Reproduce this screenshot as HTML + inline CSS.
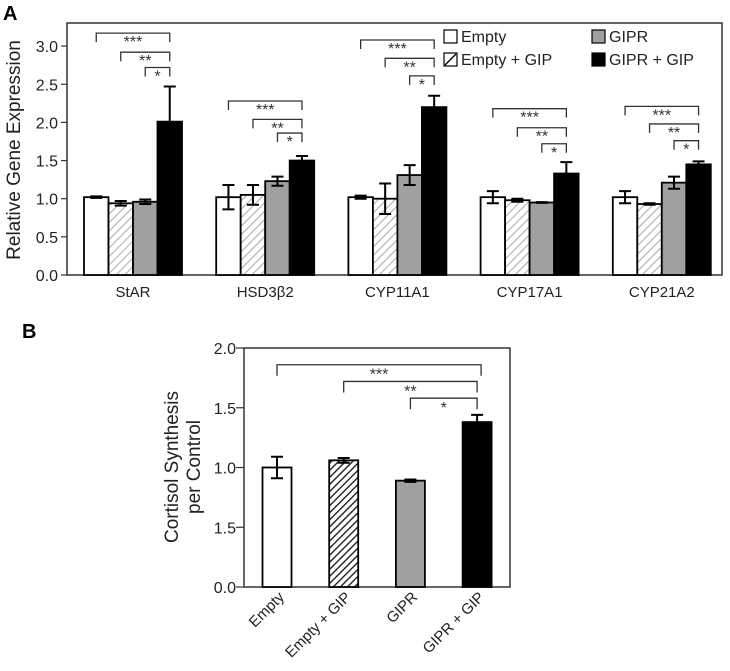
<!DOCTYPE html>
<html><head><meta charset="utf-8"><style>
body{margin:0;background:#fff;}
svg{display:block;font-family:"Liberation Sans",sans-serif;}
</style></head><body>
<svg id="chart" width="730" height="671" viewBox="0 0 730 671">
<defs>
<pattern id="hatchA" patternUnits="userSpaceOnUse" width="6" height="6" patternTransform="rotate(45)"><rect width="6" height="6" fill="#fff"/><line x1="0" y1="0" x2="0" y2="6" stroke="#aaa" stroke-width="2"/></pattern>
<pattern id="hatchB" patternUnits="userSpaceOnUse" width="5" height="5" patternTransform="rotate(45)"><rect width="5" height="5" fill="#fff"/><line x1="0" y1="0" x2="0" y2="5" stroke="#111" stroke-width="2.6"/></pattern>
</defs>
<g id="A"></g><g id="B"></g>
</svg>
<script>
const genes=["StAR","HSD3\u03B22","CYP11A1","CYP17A1","CYP21A2"];
const emptyVals=[1.02,1.02,1.02,1.02,1.02];
const emptyErr=[0.01,0.16,0.02,0.08,0.08];
const emptyGipVals=[0.94,1.05,1.00,0.98,0.93];
const emptyGipErr=[0.03,0.13,0.20,0.02,0.01];
const giprVals=[0.96,1.23,1.31,0.95,1.21];
const giprErr=[0.03,0.06,0.13,0.005,0.08];
const giprGipVals=[2.01,1.50,2.20,1.33,1.45];
const giprGipErr=[0.46,0.06,0.15,0.15,0.04];
const bracketTops=[[3.17,2.92,2.72],[2.28,2.04,1.86],[3.08,2.84,2.61],[2.18,1.93,1.72],[2.21,1.98,1.76]];
const yTicksA=[0,0.5,1,1.5,2,2.5,3];
const yTickLabelsA=["0.0","0.5","1.0","1.5","2.0","2.5","3.0"];
const bCats=["Empty","Empty + GIP","GIPR","GIPR + GIP"];
const bVals=[1.00,1.06,0.89,1.38];
const bErr=[0.09,0.02,0.01,0.06];
const bBracketTops=[1.86,1.72,1.58];
const yTicksB=[0,0.5,1,1.5,2];
const yTickLabelsB=["0.0","1.5","1.0","1.5","2.0"];

const NS="http://www.w3.org/2000/svg";
function mk(p,t,a,txt){const e=document.createElementNS(NS,t);for(const k in a)e.setAttribute(k,a[k]);if(txt!==undefined)e.textContent=txt;p.appendChild(e);return e;}
// Panel A
const A=document.getElementById('A');
const yA=v=>275-v*76.3;
const groupX=i=>84+i*132.2;
const bw=24.5;
const lt=mk(A,'text',{x:3,y:20,'font-size':20,'font-weight':'bold'},'A');


const fr=mk(A,'rect',{x:67,y:23,width:655,height:252,fill:'none',stroke:'#333','stroke-width':1.5});


yTicksA.forEach((t,i)=>{
  mk(A,'line',{x1:61,x2:67,y1:yA(t),y2:yA(t),stroke:'#333','stroke-width':1.2});
  const tl=mk(A,'text',{x:58,y:yA(t)+6,'font-size':16,'text-anchor':'end',fill:'#222'},yTickLabelsA[i]);
  
  
});
const yt=mk(A,'text',{x:0,y:0,'font-size':19,'text-anchor':'middle',fill:'#222',transform:'translate(20,150) rotate(-90)'},'Relative Gene Expression');


const series=[[emptyVals,emptyErr,'#fff'],[emptyGipVals,emptyGipErr,'url(#hatchA)'],[giprVals,giprErr,'#a0a0a0'],[giprGipVals,giprGipErr,'#000']];
genes.forEach((g,i)=>{
  const gx=groupX(i);
  series.forEach((s,j)=>{
    const x=gx+j*bw,v=s[0][i],e=s[1][i];
    const r=mk(A,'rect',{x:x,y:yA(v),width:bw,height:275-yA(v),fill:s[2],stroke:'#000','stroke-width':1.8});
    
    
    const cx=x+bw/2;
    mk(A,'path',{d:`M${cx},${yA(v+e)}V${yA(v-e)}M${cx-6},${yA(v+e)}h12M${cx-6},${yA(v-e)}h12`,stroke:'#000','stroke-width':2,fill:'none'});
  });
  const rx=gx+3.5*bw, stars=['***','**','*'];
  bracketTops[i].forEach((b,k)=>{
    const lx=gx+(k+0.5)*bw,yy=yA(b);
    mk(A,'path',{d:`M${lx},${yy+9}V${yy}H${rx}V${yy+9}`,stroke:'#333','stroke-width':1.3,fill:'none'});
    mk(A,'text',{x:(lx+rx)/2,y:yy+14,'font-size':16,'text-anchor':'middle',fill:'#333'},stars[k]);
  });
  const cl=mk(A,'text',{x:gx+2*bw,y:297,'font-size':15,'text-anchor':'middle',fill:'#222'},g);
  
  
});
// legend
const leg=[[444,30,'#fff','Empty'],[444,53,'url(#hatchA)','Empty + GIP'],[592,30,'#a0a0a0','GIPR'],[592,53,'#000','GIPR + GIP']];
leg.forEach(l=>{
  const sw=mk(A,'rect',{x:l[0],y:l[1],width:13,height:13,fill:l[2]==='url(#hatchA)'?'#fff':l[2],stroke:'#000','stroke-width':1.2});
  
  
  if(l[2]==='url(#hatchA)')mk(A,'line',{x1:l[0]+1,y1:l[1]+12,x2:l[0]+12,y2:l[1]+1,stroke:'#000','stroke-width':1.4});
  const lt2=mk(A,'text',{x:l[0]+17,y:l[1]+12,'font-size':16,fill:'#222'},l[3]);
  
  
});
// Panel B
const B=document.getElementById('B');
const yB=v=>587-v*119.5;
const bx=i=>277+i*66.7;
const bbw=29;
const lb=mk(B,'text',{x:22,y:338,'font-size':20,'font-weight':'bold'},'B');


const frb=mk(B,'rect',{x:244,y:348,width:266,height:239,fill:'none',stroke:'#333','stroke-width':1.5});


yTicksB.forEach((t,i)=>{
  mk(B,'line',{x1:236,x2:244,y1:yB(t),y2:yB(t),stroke:'#333','stroke-width':1.2});
  const tl=mk(B,'text',{x:236,y:yB(t)+6,'font-size':16,'text-anchor':'end',fill:'#222'},yTickLabelsB[i]);
  
  
});
const yt1=mk(B,'text',{x:0,y:0,'font-size':19,'text-anchor':'middle',fill:'#222',transform:'translate(178,467) rotate(-90)'},'Cortisol Synthesis');


const yt2=mk(B,'text',{x:0,y:0,'font-size':19,'text-anchor':'middle',fill:'#222',transform:'translate(200,467) rotate(-90)'},'per Control');


const bFills=['#fff','url(#hatchB)','#a0a0a0','#000'];
bCats.forEach((c,i)=>{
  const cx=bx(i),v=bVals[i],e=bErr[i];
  const r=mk(B,'rect',{x:cx-bbw/2,y:yB(v),width:bbw,height:587-yB(v),fill:bFills[i],stroke:'#000','stroke-width':1.8});
  
  
  mk(B,'path',{d:`M${cx},${yB(v+e)}V${yB(v-e)}M${cx-6},${yB(v+e)}h12M${cx-6},${yB(v-e)}h12`,stroke:'#000','stroke-width':2,fill:'none'});
  const xl=mk(B,'text',{x:0,y:0,'font-size':15,'text-anchor':'end',fill:'#222',transform:`translate(${cx+8},${598}) rotate(-45)`},c);
  
  
});
const starsB=['***','**','*'];
bBracketTops.forEach((b,k)=>{
  const lx=bx(k),rx=bx(3)+(k===0?4:0),yy=yB(b);
  mk(B,'path',{d:`M${lx},${yy+11}V${yy}H${rx}V${yy+11}`,stroke:'#333','stroke-width':1.3,fill:'none'});
  mk(B,'text',{x:(lx+rx)/2,y:yy+15,'font-size':16,'text-anchor':'middle',fill:'#333'},starsB[k]);
});
</script>
</body></html>
